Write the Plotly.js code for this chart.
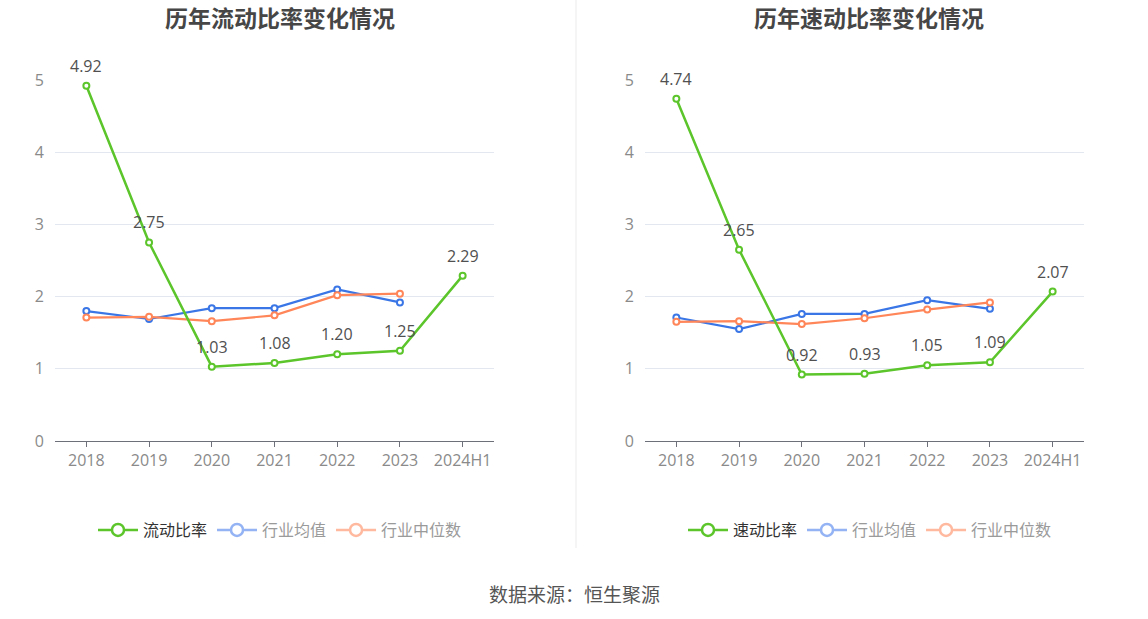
<!DOCTYPE html>
<html><head><meta charset="utf-8">
<script src="https://cdn.plot.ly/plotly-3.0.1.min.js"></script>
<style>html,body{margin:0;padding:0;background:#fff;}#c{width:1148px;height:619px;}</style>
</head><body><div id="c"></div>
<script>
const categories = ['2018','2019','2020','2021','2022','2023','2024H1'];
const currentRatio = [4.92, 2.75, 1.03, 1.08, 1.20, 1.25, 2.29];
const currentAvg = [1.80, 1.69, 1.84, 1.84, 2.10, 1.92];
const currentMedian = [1.71, 1.72, 1.66, 1.74, 2.02, 2.04];
const quickRatio = [4.74, 2.65, 0.92, 0.93, 1.05, 1.09, 2.07];
const quickAvg = [1.71, 1.55, 1.76, 1.76, 1.95, 1.83];
const quickMedian = [1.65, 1.66, 1.62, 1.70, 1.82, 1.92];
const yTicks = [0,1,2,3,4,5];

const GREEN='#5BC52B', BLUE='#3A76E6', ORANGE='#FF8659';
const FONT='"Noto Sans CJK SC", "Noto Sans", sans-serif';
const NUMFONT='"Open Sans", "Noto Sans", sans-serif';

function line(x, y, color, xa, ya, w){
  return {x:x, y:y, xaxis:xa, yaxis:ya, type:'scatter', mode:'lines+markers',
    line:{color:color, width:w},
    marker:{symbol:'circle', size:6, color:'#fff', line:{color:color, width:2}},
    showlegend:false, cliponaxis:false, hoverinfo:'skip'};
}
function legItem(name, color, leg){
  return {x:[null], y:[null], type:'scatter', mode:'lines+markers', name:name, legend:leg,
    line:{color:color, width:2.5}, marker:{symbol:'circle', size:12, color:'#fff', line:{color:color, width:2.5}},
    showlegend:true, hoverinfo:'skip'};
}
function labels(y, xr, yr){
  // category axes: annotation x is the category index
  return y.map((v,i)=>({text:v.toFixed(2), x:i, y:v, xref:xr, yref:yr, showarrow:false, yshift:20,
    xanchor:'center', yanchor:'middle', font:{size:16, color:'#505050', family:NUMFONT}}));
}

const cats2 = categories.slice(0,6);
const data = [
  line(cats2, currentAvg, BLUE, 'x', 'y', 2.2),
  line(cats2, currentMedian, ORANGE, 'x', 'y', 2.2),
  line(categories, currentRatio, GREEN, 'x', 'y', 2.5),
  line(cats2, quickAvg, BLUE, 'x2', 'y2', 2.2),
  line(cats2, quickMedian, ORANGE, 'x2', 'y2', 2.2),
  line(categories, quickRatio, GREEN, 'x2', 'y2', 2.5),
  legItem('流动比率', GREEN, 'legend'),
  legItem('<span style="color:#9a9a9a">行业均值</span>', '#93B3F4', 'legend'),
  legItem('<span style="color:#9a9a9a">行业中位数</span>', '#FFB99F', 'legend'),
  legItem('速动比率', GREEN, 'legend2'),
  legItem('<span style="color:#9a9a9a">行业均值</span>', '#93B3F4', 'legend2'),
  legItem('<span style="color:#9a9a9a">行业中位数</span>', '#FFB99F', 'legend2')
];

function xa(dom){
  return {domain:dom, type:'category', categoryorder:'array', categoryarray:categories, range:[-0.5,6.5],
    showline:true, linecolor:'#6E7079', linewidth:1, ticks:'outside', ticklen:5, tickcolor:'#6E7079',
    showgrid:false, zeroline:false, fixedrange:true,
    tickfont:{size:16, color:'#8a8a8a', family:NUMFONT}};
}
function ya(anchor){
  return {domain:[1-441/619, 1-80/619], range:[0,5], tickvals:yTicks, ticktext:yTicks.map(String), anchor:anchor,
    showline:false, showgrid:true, gridcolor:'#E3E7F0', gridwidth:1, zeroline:false, ticks:'',
    ticklabelstandoff:10, fixedrange:true,
    tickfont:{size:16, color:'#8a8a8a', family:NUMFONT}};
}
const legBase = {orientation:'h', xanchor:'center', yanchor:'middle', y:1-530/619,
  font:{size:16, color:'#333', family:FONT}, bgcolor:'rgba(0,0,0,0)', itemwidth:40, tracegroupgap:0, itemclick:false, itemdoubleclick:false};

const annotations = [
  {text:'<b>历年流动比率变化情况</b>', xref:'paper', yref:'paper', x:280/1148, y:1-17/619, xanchor:'center', yanchor:'middle', showarrow:false, font:{size:23, color:'#464646', family:FONT}},
  {text:'<b>历年速动比率变化情况</b>', xref:'paper', yref:'paper', x:869/1148, y:1-17/619, xanchor:'center', yanchor:'middle', showarrow:false, font:{size:23, color:'#464646', family:FONT}},
  {text:'数据来源：恒生聚源', xref:'paper', yref:'paper', x:574/1148, y:1-593/619, xanchor:'center', yanchor:'middle', showarrow:false, font:{size:19, color:'#555', family:FONT}}
].concat(labels(currentRatio, 'x', 'y'), labels(quickRatio, 'x2', 'y2'));

const layout = {
  width:1148, height:619, margin:{l:0,r:0,t:0,b:0}, paper_bgcolor:'#fff', plot_bgcolor:'#fff',
  font:{family:FONT},
  xaxis: Object.assign(xa([55/1148, 494/1148]), {anchor:'y'}),
  yaxis: ya('x'),
  xaxis2: Object.assign(xa([645/1148, 1084/1148]), {anchor:'y2'}),
  yaxis2: ya('x2'),
  legend: Object.assign({}, legBase, {x:280/1148}),
  legend2: Object.assign({}, legBase, {x:870/1148}),
  shapes:[{type:'line', xref:'paper', yref:'paper', x0:576/1148, x1:576/1148, y0:1-548/619, y1:1, line:{color:'#EBEBEB', width:1}}],
  annotations: annotations
};
Plotly.newPlot('c', data, layout, {displayModeBar:false, staticPlot:true});
</script></body></html>
